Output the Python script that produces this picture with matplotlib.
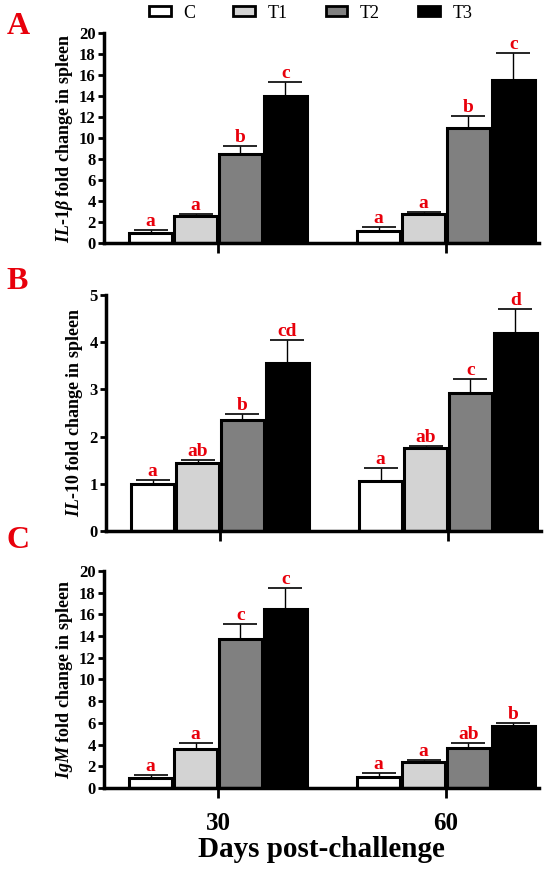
import numpy as np
import matplotlib
matplotlib.use('Agg')
import matplotlib.pyplot as plt
from matplotlib.patches import Patch

plt.rcParams['font.family'] = ['Liberation Serif', 'DejaVu Serif']
plt.rcParams['font.weight'] = 'bold'
plt.rcParams['mathtext.fontset'] = 'custom'
plt.rcParams['mathtext.rm'] = 'Liberation Serif:bold'
plt.rcParams['mathtext.it'] = 'Liberation Serif:italic:bold'
plt.rcParams['mathtext.bf'] = 'Liberation Serif:bold'

# data
groups = ['C', 'T1', 'T2', 'T3']
days = ['30', '60']
colors = ['white', '#d3d3d3', '#808080', 'black']

il1b_mean = [[1.0, 2.6, 8.5, 14.0], [1.1, 2.8, 11.0, 15.5]]
il1b_err = [[0.2, 0.2, 0.7, 1.3], [0.4, 0.15, 1.1, 2.6]]
il1b_let = [['a', 'a', 'b', 'c'], ['a', 'a', 'b', 'c']]

il10_mean = [[1.0, 1.45, 2.35, 3.55], [1.05, 1.75, 2.93, 4.2]]
il10_err = [[0.08, 0.06, 0.12, 0.5], [0.28, 0.06, 0.28, 0.5]]
il10_let = [['a', 'ab', 'b', 'cd'], ['a', 'ab', 'c', 'd']]

igm_mean = [[0.9, 3.6, 13.7, 16.5], [1.0, 2.4, 3.7, 5.7]]
igm_err = [[0.3, 0.55, 1.4, 1.9], [0.4, 0.2, 0.45, 0.25]]
igm_let = [['a', 'a', 'c', 'c'], ['a', 'a', 'ab', 'b']]

panels = [
    ('A', il1b_mean, il1b_err, il1b_let, r'$IL$-$1\beta$ fold change in spleen', 20, 2),
    ('B', il10_mean, il10_err, il10_let, r'$IL$-$10$ fold change in spleen', 5, 1),
    ('C', igm_mean, igm_err, igm_let, r'$IgM$ fold change in spleen', 20, 2),
]

# axes boxes [left, bottom, width, height] in figure fractions
boxes = [
    [0.189, 0.7216, 0.7918, 0.2406],
    [0.1927, 0.3918, 0.7918, 0.2703],
    [0.189, 0.0974, 0.7918, 0.2485],
]
letter_y = [0.970, 0.678, 0.381]

fig = plt.figure(figsize=(5.5, 8.73), dpi=100)
offsets = [-0.295, -0.098, 0.098, 0.295]
width = 0.19
red = '#e8000b'

for i, (tag, means, errs, lets, ylab, ymax, step) in enumerate(panels):
    ax = fig.add_axes(boxes[i])
    for d in range(len(days)):
        for g in range(len(groups)):
            x = d + offsets[g]
            h = means[d][g]
            e = errs[d][g]
            ax.bar(x, h, width=width, color=colors[g], edgecolor='black',
                   linewidth=2.2, zorder=2)
            ax.errorbar(x, h, yerr=[[0], [e]], fmt='none', ecolor='black',
                        elinewidth=1, capsize=12, capthick=1.2, zorder=3)
            ax.annotate(lets[d][g], (x, h + e), xytext=(0, 0),
                        textcoords='offset points', ha='center', va='bottom',
                        color=red, fontsize=14, fontweight='bold')
    ax.set_xlim(-0.5, 1.41)
    ax.set_ylim(0, ymax)
    ax.set_yticks(np.arange(0, ymax + 0.01, step))
    ax.set_xticks([0, 1])
    if tag == 'C':
        ax.set_xticklabels(days, fontsize=18, fontweight='bold')
        ax.set_xlabel('Days post-challenge', fontsize=21, fontweight='bold',
                      labelpad=1)
    else:
        ax.set_xticklabels([])
    ax.spines['top'].set_visible(False)
    ax.spines['right'].set_visible(False)
    ax.spines['left'].set_linewidth(2.5)
    ax.spines['bottom'].set_linewidth(2.5)
    ax.tick_params(axis='y', width=2, length=4, labelsize=12, pad=2)
    ax.tick_params(axis='x', width=2, length=7, pad=10)
    for t in ax.get_yticklabels():
        t.set_fontweight('bold')
    ax.set_ylabel(ylab, fontsize=13, fontweight='bold', labelpad=3)
    fig.text(0.012, letter_y[i], tag, color=red, fontsize=23,
             fontweight='bold', va='center', ha='left')

handles = [Patch(facecolor=c, edgecolor='black', linewidth=2) for c in colors]
fig.legend(handles, groups, loc='center', bbox_to_anchor=(0.565, 0.985),
           ncol=4, frameon=False, prop={'size': 13, 'weight': 'normal'},
           handlelength=1.2, handleheight=0.45, columnspacing=2.1,
           handletextpad=0.7)

fig.savefig('out.png', dpi=100)
